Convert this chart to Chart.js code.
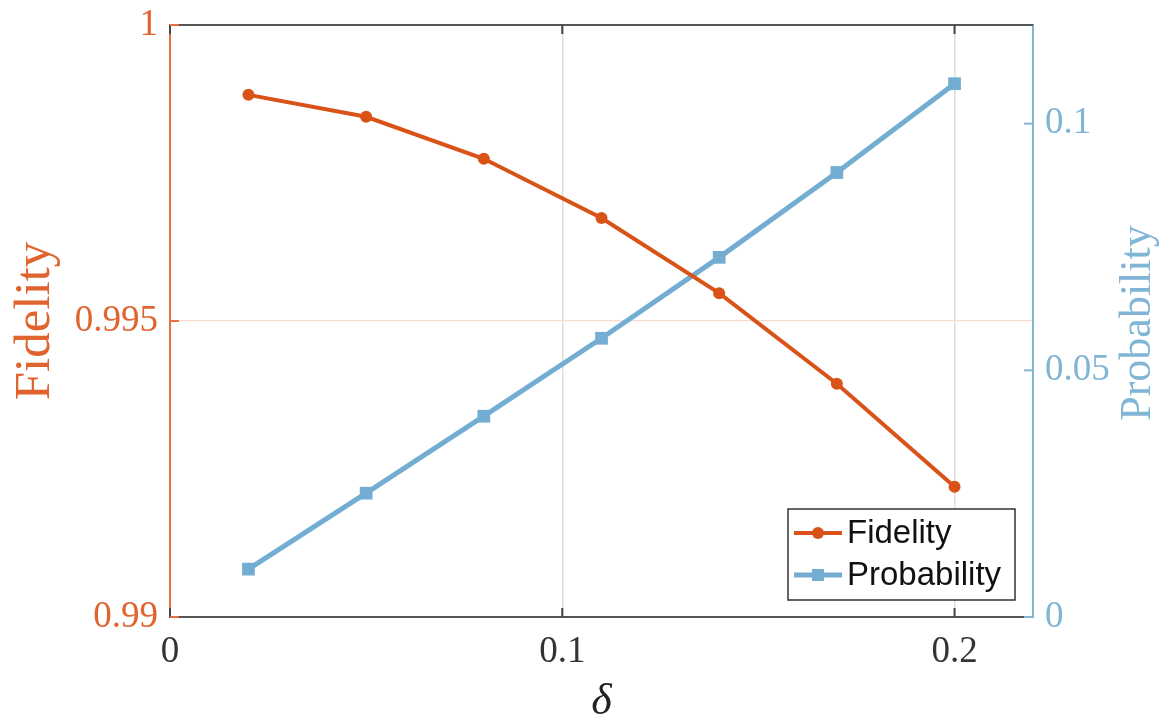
<!DOCTYPE html>
<html>
<head>
<meta charset="utf-8">
<script src="https://cdn.jsdelivr.net/npm/chart.js@4/dist/chart.umd.min.js"></script>
<style>
  html, body { margin: 0; padding: 0; background: #ffffff; }
  #wrap { width: 1161px; height: 721px; }
</style>
</head>
<body>
<div id="wrap"><canvas id="c" width="1161" height="721"></canvas></div>
<script>
// ---- data ----
const deltas = [0.02, 0.05, 0.08, 0.11, 0.14, 0.17, 0.20];
const fidelity = [0.99882, 0.99845, 0.99774, 0.99674, 0.99547, 0.99394, 0.99220];
const probability = [0.0097, 0.0251, 0.0407, 0.0565, 0.0729, 0.0901, 0.1081];
const xTicks = [0, 0.1, 0.2];
const fidTicks = [0.99, 0.995, 1];
const probTicks = [0, 0.05, 0.1];
const seriesNames = ['Fidelity', 'Probability'];
const xTitle = 'δ';
const leftTitle = 'Fidelity';
const rightTitle = 'Probability';

// ---- styles ----
const ORANGE = '#D95319';
const ORANGE_TXT = '#E0642E';
const ORANGE_AX = '#E8703F';
const BLUE = '#73ADD2';
const BLUE_TXT = '#80B5D6';
const SERIF = "'Liberation Serif', 'Times New Roman', serif";

const fmt = v => {
  if (Math.abs(v) < 1e-12) return '0';
  return String(parseFloat(v.toFixed(4)));
};

const axisDecor = {
  id: 'axisDecor',
  beforeDatasetsDraw(chart) {
    const { ctx, chartArea: a, scales } = chart;
    ctx.save();
    ctx.strokeStyle = '#555555';
    ctx.lineWidth = 2;
    ctx.beginPath();
    ctx.moveTo(a.left, a.top);
    ctx.lineTo(a.right, a.top);
    ctx.stroke();
    const L = 9;
    ctx.strokeStyle = '#444444';
    ctx.lineWidth = 2;
    scales.x.ticks.forEach(t => {
      const px = scales.x.getPixelForValue(t.value);
      ctx.beginPath();
      ctx.moveTo(px, a.bottom); ctx.lineTo(px, a.bottom - L);
      ctx.moveTo(px, a.top); ctx.lineTo(px, a.top + L);
      ctx.stroke();
    });
    ctx.strokeStyle = ORANGE_AX;
    scales.y.ticks.forEach(t => {
      const py = scales.y.getPixelForValue(t.value);
      ctx.beginPath();
      ctx.moveTo(a.left, py); ctx.lineTo(a.left + L, py);
      ctx.stroke();
    });
    ctx.strokeStyle = BLUE_TXT;
    scales.y2.ticks.forEach(t => {
      const py = scales.y2.getPixelForValue(t.value);
      ctx.beginPath();
      ctx.moveTo(a.right, py); ctx.lineTo(a.right - L, py);
      ctx.stroke();
    });
    ctx.restore();
  },
  afterDraw(chart) {
    const { ctx, chartArea: a } = chart;
    ctx.save();
    ctx.font = '44px ' + SERIF;
    ctx.fillStyle = BLUE_TXT;
    ctx.textAlign = 'center';
    ctx.textBaseline = 'middle';
    ctx.translate(1138, (a.top + a.bottom) / 2 + 2);
    ctx.rotate(-Math.PI / 2);
    ctx.fillText(rightTitle, 0, 0);
    ctx.restore();

    const bw = 227, bh = 91;
    const bx = a.right - 18 - bw;
    const by = a.bottom - 17 - bh;
    ctx.save();
    ctx.fillStyle = '#ffffff';
    ctx.fillRect(bx, by, bw, bh);
    ctx.strokeStyle = '#333333';
    ctx.lineWidth = 1.5;
    ctx.strokeRect(bx, by, bw, bh);
    ctx.font = '33px "Liberation Sans", Arial, sans-serif';
    ctx.textBaseline = 'middle';
    ctx.textAlign = 'left';
    chart.data.datasets.forEach((ds, i) => {
      const cy = by + 24 + i * 42;
      const x0 = bx + 6, x1 = bx + 54;
      ctx.strokeStyle = ds.borderColor;
      ctx.lineWidth = ds.borderWidth;
      ctx.beginPath();
      ctx.moveTo(x0, cy); ctx.lineTo(x1, cy);
      ctx.stroke();
      ctx.fillStyle = ds.borderColor;
      const mx = (x0 + x1) / 2;
      if (ds.pointStyle === 'rect') {
        ctx.fillRect(mx - 6, cy - 6, 12, 12);
      } else {
        ctx.beginPath();
        ctx.arc(mx, cy, 6, 0, Math.PI * 2);
        ctx.fill();
      }
      ctx.fillStyle = '#111111';
      ctx.fillText(ds.label, bx + 59, cy + 1);
    });
    ctx.restore();
  }
};

const noPad = s => { s.paddingTop = 0; s.paddingBottom = 0; };

new Chart(document.getElementById('c'), {
  type: 'line',
  data: {
    datasets: [
      {
        label: seriesNames[0],
        data: deltas.map((d, i) => ({ x: d, y: fidelity[i] })),
        yAxisID: 'y',
        borderColor: ORANGE,
        backgroundColor: ORANGE,
        borderWidth: 4,
        pointRadius: 6,
        pointStyle: 'circle',
        pointBackgroundColor: ORANGE,
        pointBorderWidth: 0,
        tension: 0
      },
      {
        label: seriesNames[1],
        data: deltas.map((d, i) => ({ x: d, y: probability[i] })),
        yAxisID: 'y2',
        borderColor: BLUE,
        backgroundColor: BLUE,
        borderWidth: 5,
        pointRadius: 9,
        pointStyle: 'rect',
        pointBackgroundColor: BLUE,
        pointBorderWidth: 0,
        tension: 0
      }
    ]
  },
  options: {
    responsive: false,
    animation: false,
    devicePixelRatio: 1,
    layout: { padding: { top: 25, left: 0, right: 0, bottom: 0 } },
    plugins: { legend: { display: false }, tooltip: { enabled: false } },
    scales: {
      x: {
        type: 'linear',
        position: 'bottom',
        min: 0,
        max: 0.22,
        afterBuildTicks: s => { s.ticks = xTicks.map(v => ({ value: v })); },
        afterFit: s => { s.height = 104; s.paddingLeft = 0; s.paddingRight = 0; },
        border: { color: '#555555', width: 2 },
        grid: {
          drawTicks: false,
          lineWidth: 1.5,
          color: c => (c.tick && c.tick.value > 0 ? '#DEDEDE' : 'rgba(0,0,0,0)')
        },
        ticks: {
          padding: 13,
          color: '#333333',
          font: { family: SERIF, size: 37 },
          callback: v => fmt(v),
          maxRotation: 0
        },
        title: {
          display: true,
          text: xTitle,
          color: '#222222',
          font: { family: SERIF, size: 44, style: 'italic', lineHeight: 1 },
          padding: { top: 0, bottom: -3 }
        }
      },
      y: {
        type: 'linear',
        position: 'left',
        min: 0.99,
        max: 1,
        afterBuildTicks: s => { s.ticks = fidTicks.map(v => ({ value: v })); },
        afterFit: s => { s.width = 170; noPad(s); },
        border: { color: ORANGE_AX, width: 2 },
        grid: {
          drawTicks: false,
          lineWidth: 1.2,
          color: c => (c.tick && Math.abs(c.tick.value - 0.995) < 1e-9 ? '#F9DCCE' : 'rgba(0,0,0,0)')
        },
        ticks: {
          padding: 12,
          color: ORANGE_TXT,
          font: { family: SERIF, size: 37 },
          callback: v => fmt(v)
        },
        title: {
          display: true,
          text: leftTitle,
          color: ORANGE_TXT,
          font: { family: SERIF, size: 51, lineHeight: 1 },
          padding: { top: 10, bottom: 0 }
        }
      },
      y2: {
        type: 'linear',
        position: 'right',
        min: 0,
        max: 0.12,
        afterBuildTicks: s => { s.ticks = probTicks.map(v => ({ value: v })); },
        afterFit: s => { s.width = 128; noPad(s); },
        border: { color: BLUE_TXT, width: 2 },
        grid: { display: false, drawTicks: false },
        ticks: {
          padding: 12,
          color: BLUE_TXT,
          font: { family: SERIF, size: 37 },
          callback: v => fmt(v)
        }
      }
    }
  },
  plugins: [axisDecor]
});
</script>
</body>
</html>
